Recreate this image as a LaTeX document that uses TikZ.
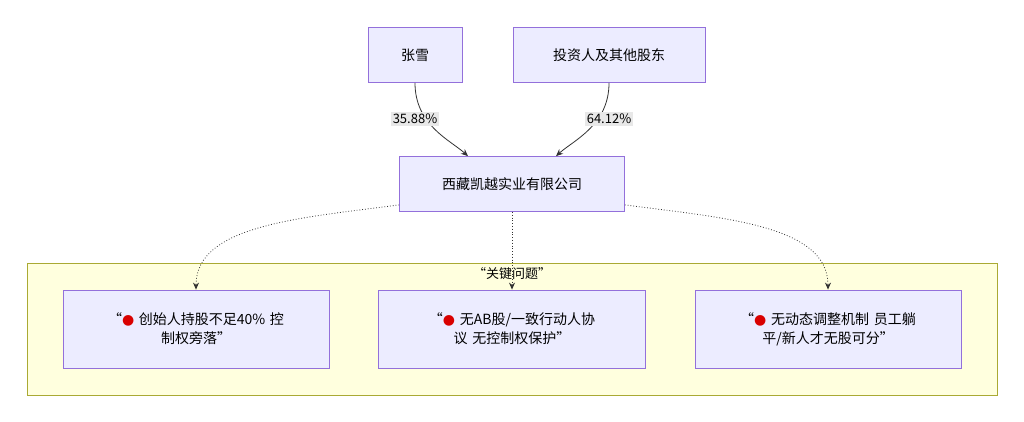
\documentclass[tikz,border=0pt]{standalone}
\usepackage{fontspec}
\setmainfont{Noto Sans CJK SC}
\newfontfamily\symfont{DejaVu Sans}
\usepackage{tikz}
\usetikzlibrary{arrows.meta}
\definecolor{boxfill}{HTML}{ECECFF}
\definecolor{boxline}{HTML}{9370DB}
\definecolor{grpfill}{HTML}{FFFFDE}
\definecolor{grpline}{HTML}{AAAA33}
\definecolor{lblfill}{HTML}{E8E8E8}
\newcommand{\reddot}{{\symfont\color{red!85!black}●}}
\tikzset{
  box/.style={draw=boxline,fill=boxfill,line width=0.8pt,font=\fontsize{14}{19}\selectfont,align=center,inner sep=0pt},
  lbl/.style={fill=lblfill,font=\fontsize{13}{15}\selectfont,inner sep=2pt},
  arr/.style={-{Stealth[length=7pt,width=6pt]},line width=0.8pt,draw=black!80},
  dots/.style={arr,dotted}
}
\begin{document}
\begin{tikzpicture}[x=1pt,y=-1pt]
   \useasboundingbox[fill=white] (0,0) rectangle (1024,422);
   %grupo
   \draw[draw=grpline,fill=grpfill,line width=0.8pt] (27,263) rectangle (997,395);
   \node[font=\fontsize{13}{15}\selectfont] (grp) at (512,274) {“关键问题”};
   %accionistas
   \node[box,minimum width=94pt,minimum height=55pt] (zx) at (415,55) {张雪};
   \node[box,minimum width=192pt,minimum height=55pt] (inv) at (609,55) {投资人及其他股东};
   \node[box,minimum width=225pt,minimum height=55pt] (co) at (512,184) {西藏凯越实业有限公司};
   %problemas
   \node[box,minimum width=266pt,minimum height=78pt,text width=230pt] (p1) at (196,329) {“\reddot{} 创始人持股不足40\% 控\\制权旁落”};
   \node[box,minimum width=267pt,minimum height=78pt,text width=230pt] (p2) at (512,329) {“\reddot{} 无AB股/一致行动人协\\议 无控制权保护”};
   \node[box,minimum width=266pt,minimum height=78pt,text width=230pt] (p3) at (828,329) {“\reddot{} 无动态调整机制 员工躺\\平/新人才无股可分”};
   %flechas
   \draw[arr] (zx.south) .. controls (415,125) and (450,140) .. ([xshift=-44pt]co.north);
   \draw[arr] (inv.south) .. controls (609,125) and (574,140) .. ([xshift=44pt]co.north);
   \node[lbl] (l1) at (415,119) {35.88\%};
   \node[lbl] (l2) at (609,119) {64.12\%};
   \draw[dots] ([yshift=7pt]co.south west) .. controls (300,218) and (196,225) .. (p1.north);
   \draw[dots] (co.south) -- (p2.north);
   \draw[dots] ([yshift=7pt]co.south east) .. controls (724,218) and (828,225) .. (p3.north);
\end{tikzpicture}
\end{document}
